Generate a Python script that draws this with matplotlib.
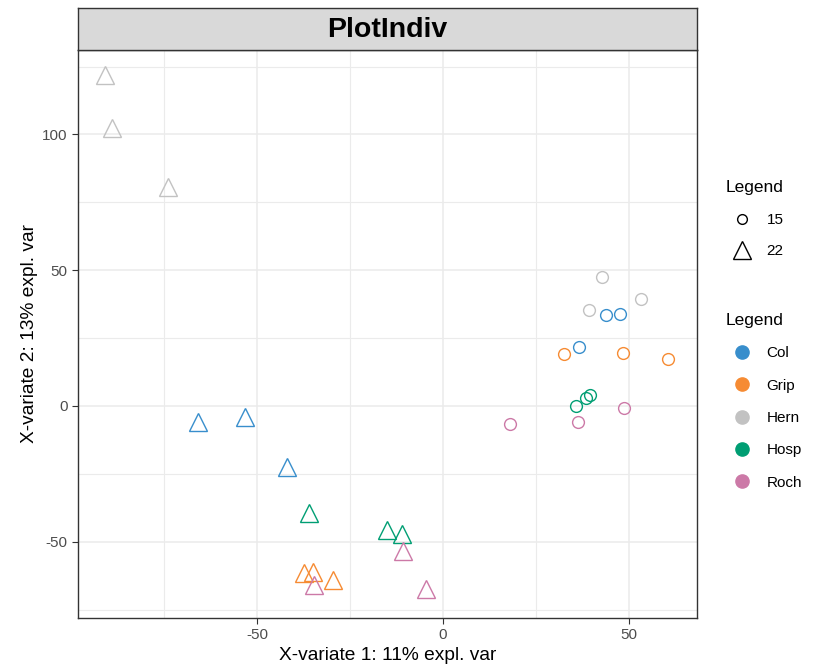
import numpy as np
import matplotlib
matplotlib.use('Agg')
import matplotlib.pyplot as plt
from matplotlib.lines import Line2D

plt.rcParams['font.family'] = ['Liberation Sans', 'DejaVu Sans']
plt.rcParams['axes.unicode_minus'] = False

groups = ['Col', 'Grip', 'Hern', 'Hosp', 'Roch']
colors = {'Col': '#388ECC', 'Grip': '#F68B33', 'Hern': '#C2C2C2',
          'Hosp': '#009E73', 'Roch': '#CC79A7'}

# samples labelled 15 (circles)
x15 = [42.9, 53.2, 39.2, 43.9, 47.7, 36.6, 32.6, 48.4, 60.5,
       39.5, 38.5, 35.7, 48.7, 36.3, 18.0]
y15 = [47.4, 39.4, 35.4, 33.5, 33.9, 21.8, 19.0, 19.4, 17.4,
       3.9, 2.8, 0.0, -0.6, -5.8, -6.5]
g15 = ['Hern', 'Hern', 'Hern', 'Col', 'Col', 'Col', 'Grip', 'Grip', 'Grip',
       'Hosp', 'Hosp', 'Hosp', 'Roch', 'Roch', 'Roch']

# samples labelled 22 (triangles)
x22 = [-90.7, -88.9, -73.8, -65.8, -53.2, -41.9, -36.0, -14.9, -11.1,
       -37.3, -34.9, -29.6, -10.8, -34.7, -4.6]
y22 = [121.9, 102.4, 80.8, -5.9, -3.9, -22.6, -39.5, -45.8, -47.1,
       -61.6, -61.1, -64.1, -53.3, -66.0, -67.4]
g22 = ['Hern', 'Hern', 'Hern', 'Col', 'Col', 'Col', 'Hosp', 'Hosp', 'Hosp',
       'Grip', 'Grip', 'Grip', 'Roch', 'Roch', 'Roch']

fig = plt.figure(figsize=(8.19, 6.7), dpi=100)
ax = fig.add_axes([0.0952, 0.0776, 0.7558, 0.8478])

for x, y, g in zip(x15, y15, g15):
    ax.plot(x, y, 'o', ms=8.5, mfc='none', mec=colors[g], mew=1.0, zorder=3)
for x, y, g in zip(x22, y22, g22):
    ax.plot(x, y, '^', ms=12.5, mfc='none', mec=colors[g], mew=1.0, zorder=3)

ax.set_xlim(-98.1, 68.3)
ax.set_ylim(-78.1, 131.1)
ax.set_xticks([-50, 0, 50])
ax.set_yticks([-50, 0, 50, 100])
ax.set_xticks([-75, -25, 25], minor=True)
ax.set_yticks([-75, -25, 25, 75, 125], minor=True)
ax.grid(which='major', color='#EBEBEB', lw=1.1, zorder=0)
ax.grid(which='minor', color='#EBEBEB', lw=0.8, zorder=0)
ax.set_axisbelow(True)
ax.tick_params(which='minor', length=0)
ax.tick_params(which='major', length=4, width=0.8, color='#333333',
               labelcolor='#4D4D4D', labelsize=11)
for s in ax.spines.values():
    s.set_color('#333333')
    s.set_linewidth(1.0)

ax.set_xlabel('X-variate 1: 11% expl. var', fontsize=13.8, labelpad=3)
ax.set_ylabel('X-variate 2: 13% expl. var', fontsize=13.8, labelpad=3)

# strip title
strip = fig.add_axes([0.0952, 0.9254, 0.7558, 0.0627])
strip.set_facecolor('#D9D9D9')
strip.set_xticks([])
strip.set_yticks([])
for s in strip.spines.values():
    s.set_color('#333333')
    s.set_linewidth(1.0)
strip.text(0.5, 0.47, 'PlotIndiv', ha='center', va='center',
           fontsize=20.5, fontweight='bold', transform=strip.transAxes)

# legends
shape_handles = [
    Line2D([], [], ls='none', marker='o', ms=7, mfc='none', mec='black', mew=1.0),
    Line2D([], [], ls='none', marker='^', ms=13, mfc='none', mec='black', mew=1.0),
]
leg1 = fig.legend(shape_handles, ['15', '22'], title='Legend',
                  loc='upper left', bbox_to_anchor=(0.878, 0.740),
                  frameon=False, fontsize=11, handlelength=2.2,
                  title_fontproperties={'size': 12.5, 'weight': 'normal'},
                  handletextpad=0.5, labelspacing=1.15, borderaxespad=0)
leg1._legend_box.align = 'left'

col_handles = [Line2D([], [], ls='none', marker='o', ms=9.5, mfc=colors[g],
                      mec=colors[g]) for g in groups]
leg2 = fig.legend(col_handles, groups, title='Legend',
                  loc='upper left', bbox_to_anchor=(0.878, 0.542),
                  frameon=False, fontsize=11, handlelength=2.2,
                  title_fontproperties={'size': 12.5, 'weight': 'normal'},
                  handletextpad=0.5, labelspacing=1.2, borderaxespad=0)
leg2._legend_box.align = 'left'

fig.savefig('out.png', dpi=100)
